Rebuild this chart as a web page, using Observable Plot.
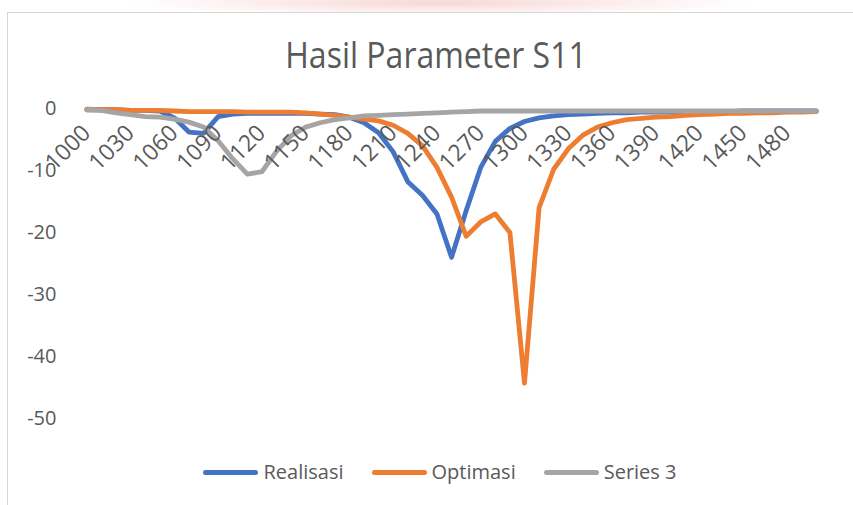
<!DOCTYPE html>
<html><head><meta charset="utf-8">
<script src="https://cdn.jsdelivr.net/npm/d3@7"></script>
<script src="https://cdn.jsdelivr.net/npm/@observablehq/plot@0.6"></script>
<style>
body{margin:0;background:#fff;}
#wrap{position:relative;width:853px;height:505px;overflow:hidden;font-family:"Open Sans",sans-serif;color:#595959;background:#fff;}
#blur{position:absolute;left:120px;top:-10px;width:640px;height:26px;background:radial-gradient(ellipse at center, rgba(235,140,140,0.35), rgba(255,255,255,0) 70%);}
#frame{position:absolute;left:7px;top:12px;width:900px;height:600px;border:1px solid #d6d6d6;background:#fff;}
#title{position:absolute;left:0;top:40px;width:872px;text-align:center;font-size:32px;line-height:1;transform:scale(1,1.15);transform-origin:50% 88%;}
#chart{position:absolute;left:0;top:85px;}
#legend{position:absolute;left:0;top:458px;width:880px;display:flex;justify-content:center;align-items:center;font-size:20px;line-height:28px;}
.item{display:flex;align-items:center;margin:0 14px;}
.sw{width:55px;height:5px;border-radius:3px;margin-right:5px;}
</style>
</head><body>
<div id="wrap">
  <div id="blur"></div>
  <div id="frame"></div>
  <div id="title">Hasil Parameter S11</div>
  <div id="chart"></div>
  <div id="legend"></div>
</div>
<script>
const categories = [1000,1010,1020,1030,1040,1050,1060,1070,1080,1090,1100,1110,1120,1130,1140,1150,1160,1170,1180,1190,1200,1210,1220,1230,1240,1250,1260,1270,1280,1290,1300,1310,1320,1330,1340,1350,1360,1370,1380,1390,1400,1410,1420,1430,1440,1450,1460,1470,1480,1490,1500];
const xTickLabels = [1000,1030,1060,1090,1120,1150,1180,1210,1240,1270,1300,1330,1360,1390,1420,1450,1480];
const yTicks = [0,-10,-20,-30,-40,-50];

const realisasi = [-0.2,-0.2,-0.2,-0.3,-0.3,-0.4,-1.5,-3.8,-4.0,-1.3,-0.9,-0.8,-0.8,-0.8,-0.8,-0.8,-0.9,-1.0,-1.4,-2.3,-3.9,-7.0,-11.8,-14.0,-17.0,-24.0,-16.5,-9.5,-5.3,-3.2,-2.1,-1.5,-1.2,-1.0,-0.9,-0.8,-0.7,-0.7,-0.6,-0.6,-0.6,-0.5,-0.5,-0.5,-0.5,-0.4,-0.4,-0.4,-0.4,-0.4,-0.4];
const optimasi = [-0.1,-0.2,-0.2,-0.3,-0.3,-0.3,-0.4,-0.5,-0.5,-0.5,-0.5,-0.6,-0.6,-0.6,-0.6,-0.7,-0.9,-1.1,-1.4,-1.7,-2.0,-2.7,-4.0,-6.0,-9.5,-14.3,-20.6,-18.3,-17.0,-20.0,-44.3,-16.0,-9.8,-6.5,-4.3,-3.0,-2.3,-1.8,-1.6,-1.4,-1.3,-1.1,-1.0,-0.9,-0.8,-0.8,-0.7,-0.7,-0.6,-0.6,-0.5];
const series3 = [-0.2,-0.3,-0.7,-1.0,-1.3,-1.4,-1.7,-2.2,-3.0,-5.2,-8.1,-10.6,-10.2,-6.9,-4.4,-3.0,-2.3,-1.8,-1.5,-1.2,-1.1,-1.0,-0.9,-0.8,-0.7,-0.6,-0.5,-0.4,-0.4,-0.4,-0.4,-0.4,-0.4,-0.4,-0.4,-0.4,-0.4,-0.4,-0.4,-0.4,-0.4,-0.4,-0.4,-0.4,-0.4,-0.4,-0.4,-0.4,-0.4,-0.4,-0.4];

const seriesNames = ["Realisasi","Optimasi","Series 3"];
const seriesColors = ["#4472C4","#ED7D31","#A5A5A5"];
const seriesValues = [realisasi, optimasi, series3];

const lineMarks = seriesValues.map((vals, s) =>
  Plot.line(categories.map((c, i) => ({x: c, y: vals[i]})), {
    x: "x", y: "y", stroke: seriesColors[s], strokeWidth: 4.8,
    strokeLinecap: "round", strokeLinejoin: "round"
  })
);

const chart = Plot.plot({
  width: 853, height: 360,
  marginLeft: 79, marginRight: 30, marginTop: 23, marginBottom: 27,
  style: {fontFamily: "'Open Sans', sans-serif", fontSize: "20px", color: "#595959", background: "transparent"},
  x: {type: "point", domain: categories, range: [86.3, 815.8], padding: 0, round: false, axis: null},
  y: {domain: [-50, 0], axis: null},
  marks: [
    Plot.gridY(yTicks, {x1: 79, x2: 823, stroke: "#d9d9d9", strokeOpacity: 1, strokeWidth: 1.4}),
    Plot.axisY(yTicks, {tickSize: 0, tickPadding: 23, tickFormat: d => String(d), fontSize: 20, label: null}),
    ...lineMarks,
    Plot.text(xTickLabels, {x: d => d, y: d => 0, text: d => String(d), rotate: -45, textAnchor: "end", lineAnchor: "bottom", dx: 5, dy: 26, fontSize: 23, fill: "#595959"})
  ]
});
document.getElementById("chart").appendChild(chart);

const legend = document.getElementById("legend");
seriesNames.forEach((n, s) => {
  const it = document.createElement("div"); it.className = "item";
  const sw = document.createElement("div"); sw.className = "sw"; sw.style.background = seriesColors[s];
  const t = document.createElement("span"); t.textContent = n;
  it.appendChild(sw); it.appendChild(t); legend.appendChild(it);
});
</script>
</body></html>
